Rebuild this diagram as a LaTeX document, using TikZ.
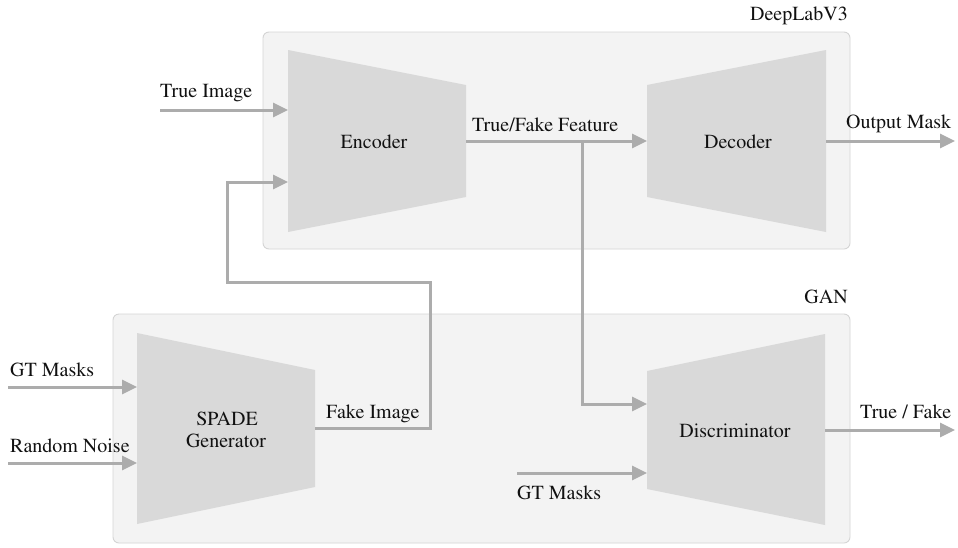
\documentclass[tikz,border=0pt]{standalone}
\usepackage[T1]{fontenc}
\usepackage{mathptmx}
\usetikzlibrary{arrows.meta}
\definecolor{panel}{HTML}{F3F3F3}
\definecolor{panelline}{HTML}{D4D4D4}
\definecolor{block}{HTML}{D9D9D9}
\definecolor{wirec}{HTML}{ACACAC}
\definecolor{ink}{HTML}{111111}
\begin{document}
\begin{tikzpicture}[x=1pt,y=-1pt,
  panelbox/.style={fill=panel,draw=panelline,line width=0.9pt,rounded corners=6pt},
  blockshape/.style={fill=block,draw=none},
  wire/.style={draw=wirec,line width=3pt},
  flow/.style={wire,-{Triangle[length=15pt,width=14pt]}},
  lbl/.style={text=ink,font=\fontsize{20}{23}\selectfont,inner sep=0pt},
]
\useasboundingbox (0,0) rectangle (958,547);

% group panels
\path[panelbox] (263,32) rectangle (850,249);
\path[panelbox] (113,314) rectangle (850,543);
\node[lbl,anchor=base east] (dlname) at (848,20) {DeepLabV3};
\node[lbl,anchor=base east] (ganname) at (848,303) {GAN};

% trapezoid blocks
\path[blockshape] (288,50) -- (466,85) -- (466,197) -- (288,232) -- cycle;
\path[blockshape] (647,85) -- (826,50) -- (826,232) -- (647,197) -- cycle;
\path[blockshape] (137,333) -- (315,370) -- (315,487) -- (137,524) -- cycle;
\path[blockshape] (647,371) -- (825,334) -- (825,525) -- (647,489) -- cycle;

% block titles
\node[lbl,anchor=base] (enc) at (374,148) {Encoder};
\node[lbl,anchor=base] (dec) at (738,148) {Decoder};
\node[lbl,anchor=base] (gen1) at (227,425) {SPADE};
\node[lbl,anchor=base] (gen2) at (226,447) {Generator};
\node[lbl,anchor=base] (disc) at (735,437) {Discriminator};

% ports
\coordinate (encIn1) at (288,110);
\coordinate (encIn2) at (288,182);
\coordinate (encOut) at (466,141);
\coordinate (decIn) at (647,141);
\coordinate (decOut) at (826,141);
\coordinate (genIn1) at (137,387);
\coordinate (genIn2) at (137,463);
\coordinate (genOut) at (315,428);
\coordinate (discIn1) at (647,404);
\coordinate (discIn2) at (647,473);
\coordinate (discOut) at (825,430);

% free ends and bends
\coordinate (trueImg) at (160,110);
\coordinate (maskEnd) at (955,141);
\coordinate (gtA) at (8,387);
\coordinate (noise) at (8,463);
\coordinate (gtB) at (517,473);
\coordinate (tfEnd) at (955,430);
\coordinate (fork) at (582,141);
\coordinate (fiA) at (430,282);
\coordinate (fiB) at (227,182);

% connectors
\draw[flow] (trueImg) -- (encIn1);
\draw[flow] (encOut) -- (decIn);
\draw[flow] (decOut) -- (maskEnd);
\draw[flow] (fork) |- (discIn1);
\draw[flow] (genOut) -| (fiA) -| (fiB) -- (encIn2);
\draw[flow] (gtA) -- (genIn1);
\draw[flow] (noise) -- (genIn2);
\draw[flow] (gtB) -- (discIn2);
\draw[flow] (discOut) -- (tfEnd);

% connector labels
\node[lbl,anchor=base west] (lTrueImg) at (160,97) {True Image};
\node[lbl,anchor=base west] (lFeat) at (472,131) {True/Fake Feature};
\node[lbl,anchor=base west] (lMask) at (846,128) {Output Mask};
\node[lbl,anchor=base west] (lGtA) at (10,376) {GT Masks};
\node[lbl,anchor=base west] (lNoise) at (10,452) {Random Noise};
\node[lbl,anchor=base west] (lFake) at (326,418) {Fake Image};
\node[lbl,anchor=base west] (lGtB) at (517,499) {GT Masks};
\node[lbl,anchor=base west] (lTF) at (860,418) {True / Fake};
\end{tikzpicture}
\end{document}
